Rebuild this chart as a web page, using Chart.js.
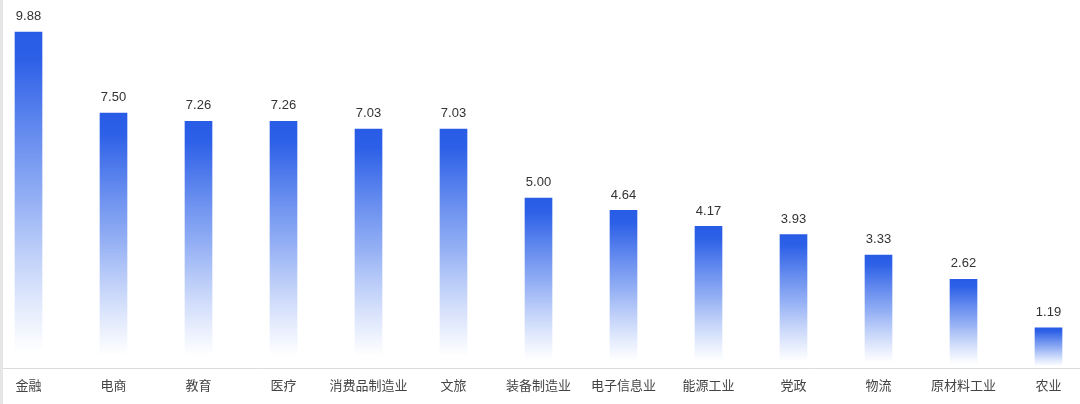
<!DOCTYPE html>
<html>
<head>
<meta charset="utf-8">
<script src="https://cdn.jsdelivr.net/npm/chart.js@4"></script>
<style>
    html, body { margin: 0; padding: 0; background: #fff; overflow: hidden; width: 1080px; height: 404px; }
    #edge { position: absolute; left: 0; top: 0; width: 3px; height: 404px; background: #e6e6e6; }
    #wrap { position: absolute; left: -14.5px; top: 0; width: 1105px; height: 404px; }
</style>
</head>
<body>
<div id="wrap"><canvas id="industryChart"></canvas></div>
<div id="edge"></div>
<script>
// categories and values
const industries = ['金融', '电商', '教育', '医疗', '消费品制造业', '文旅', '装备制造业', '电子信息业', '能源工业', '党政', '物流', '原材料工业', '农业'];
const shares = [9.88, 7.50, 7.26, 7.26, 7.03, 7.03, 5.00, 4.64, 4.17, 3.93, 3.33, 2.62, 1.19];

const fontFamily = '"Liberation Sans", "Noto Sans CJK SC", sans-serif';

// each bar fades from blue at its top to white at the baseline
function barGradient(context) {
    const chart = context.chart;
    if (!chart.chartArea || context.type !== 'data') return '#2c5fe6';
    const yScale = chart.scales.y;
    const top = yScale.getPixelForValue(context.raw);
    const base = yScale.getPixelForValue(0);
    const g = chart.ctx.createLinearGradient(0, top, 0, base);
    g.addColorStop(0, 'rgba(40, 92, 230, 1)');
    g.addColorStop(0.08, 'rgba(45, 96, 231, 1)');
    g.addColorStop(0.5, 'rgba(60, 110, 235, 0.55)');
    g.addColorStop(0.95, 'rgba(90, 135, 240, 0)');
    g.addColorStop(1, 'rgba(90, 135, 240, 0)');
    return g;
}

const valueLabels = {
    id: 'valueLabels',
    afterDatasetsDraw(chart) {
        const ctx = chart.ctx;
        const meta = chart.getDatasetMeta(0);
        ctx.save();
        ctx.font = '13px ' + fontFamily;
        ctx.fillStyle = '#333';
        ctx.textAlign = 'center';
        ctx.textBaseline = 'bottom';
        meta.data.forEach((bar, i) => {
            ctx.fillText(shares[i].toFixed(2), bar.x, bar.y - 9);
        });
        ctx.restore();
    }
};

new Chart(document.getElementById('industryChart'), {
    type: 'bar',
    data: {
        labels: industries,
        datasets: [{
            data: shares,
            backgroundColor: barGradient,
            barThickness: 27,
            borderWidth: 0
        }]
    },
    options: {
        responsive: true,
        maintainAspectRatio: false,
        animation: false,
        layout: { padding: { top: 28, bottom: 0, left: 0, right: 0 } },
        scales: {
            x: {
                offset: true,
                grid: { display: false, drawTicks: false },
                border: { display: true, color: '#dcdcdc', width: 1 },
                ticks: {
                    padding: 10,
                    color: '#444',
                    maxRotation: 0,
                    autoSkip: false,
                    font: { size: 13, family: fontFamily }
                }
            },
            y: {
                display: false,
                min: 0,
                max: 10
            }
        },
        plugins: {
            legend: { display: false },
            tooltip: { enabled: false }
        }
    },
    plugins: [valueLabels]
});
</script>
</body>
</html>
